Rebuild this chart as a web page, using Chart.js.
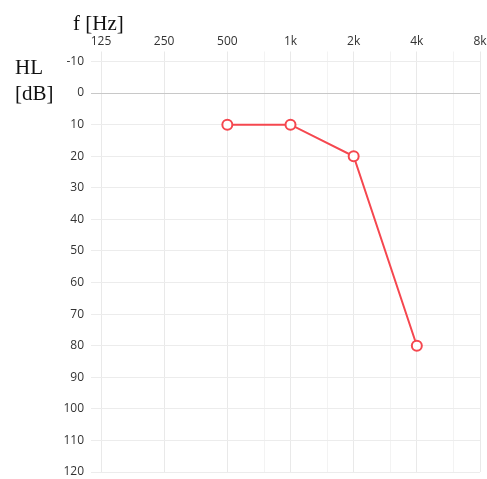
<!DOCTYPE html>
<html>
<head>
<meta charset="utf-8">
<script src="https://cdn.jsdelivr.net/npm/chart.js@4/dist/chart.umd.min.js"></script>
<style>
  html, body { margin: 0; padding: 0; background: #fff; }
  .audiogram { width: 487px; height: 479px; position: relative; }
</style>
</head>
<body>
<div class="audiogram"><canvas id="chart"></canvas></div>
<script>
// octave frequencies (labelled) and half-octave ones (grid only)
const freqs = [125, 250, 500, 1000, 2000, 4000, 8000];
const freqLabels = ["125", "250", "500", "1k", "2k", "4k", "8k"];
const midFreqs = [750, 1500, 3000, 6000];

// measured hearing levels
const testFreqs = [500, 1000, 2000, 4000];
const hearingLevels = [10, 10, 20, 80];

const dbMin = -10;
const dbMax = 120;
const dbStep = 10;

const red = "#f5474f";

const axisText = {
  id: "axisText",
  afterDraw(chart) {
    const c = chart.ctx;
    c.save();
    c.fillStyle = "#111";
    c.font = "21px 'Liberation Serif', serif";
    c.textAlign = "left";
    c.textBaseline = "alphabetic";
    c.fillText("f [Hz]", 73, 30);
    c.fillText("HL", 15, 74);
    c.fillText("[dB]", 15, 100);
    c.restore();
  },
};

new Chart(document.getElementById("chart"), {
  type: "line",
  data: {
    datasets: [
      {
        data: testFreqs.map((f, i) => ({ x: f, y: hearingLevels[i] })),
        borderColor: red,
        borderWidth: 2,
        pointBackgroundColor: "#fff",
        pointBorderColor: red,
        pointBorderWidth: 2,
        pointRadius: 5,
        tension: 0,
      },
    ],
  },
  options: {
    responsive: true,
    maintainAspectRatio: false,
    animation: false,
    layout: {
      padding: { top: 0, left: 0, right: 6, bottom: 5 },
    },
    plugins: {
      legend: { display: false },
      tooltip: { enabled: false },
    },
    scales: {
      x: {
        type: "logarithmic",
        position: "top",
        min: 125,
        max: 8000,
        afterBuildTicks: (s) => {
          s.ticks = freqs.concat(midFreqs).sort((a, b) => a - b).map((v) => ({ value: v }));
        },
        afterFit: (s) => {
          // let the 8k label run off the edge like the original
          s.height = 61.5;
          s.paddingLeft = 0;
          s.paddingRight = 0;
        },
        ticks: {
          autoSkip: false,
          maxRotation: 0,
          padding: 3,
          color: "#333",
          font: { family: "'Open Sans', sans-serif", size: 12 },
          callback: (v) => {
            const i = freqs.indexOf(v);
            return i >= 0 ? freqLabels[i] : "";
          },
        },
        grid: {
          tickLength: 10,
          color: (ctx) => (midFreqs.includes(ctx.tick && ctx.tick.value) ? "#f3f3f3" : "#e9e9e9"),
        },
        border: { display: false },
      },
      y: {
        reverse: true,
        min: dbMin,
        max: dbMax,
        afterFit: (s) => {
          s.width = 101;
          s.paddingTop = 0;
          s.paddingBottom = 0;
        },
        ticks: {
          stepSize: dbStep,
          padding: 7,
          color: "#333",
          font: { family: "'Open Sans', sans-serif", size: 12 },
        },
        grid: {
          tickLength: 10,
          color: (ctx) => (ctx.tick && ctx.tick.value === 0 ? "#c8c8c8" : "#ececec"),
        },
        border: { display: false },
      },
    },
  },
  plugins: [axisText],
});
</script>
</body>
</html>
